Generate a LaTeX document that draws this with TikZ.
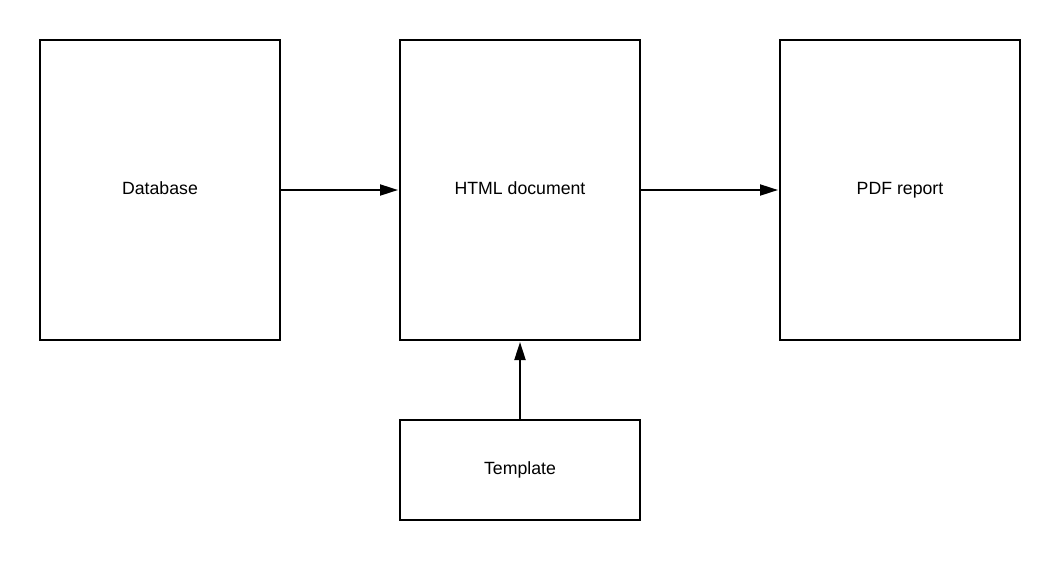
\documentclass[tikz,border=0pt]{standalone}
\usepackage{fontspec}
\setmainfont{Liberation Sans}
\usetikzlibrary{arrows.meta}
\begin{document}
\begin{tikzpicture}[x=1pt,y=-1pt,
  box/.style={draw=black,line width=2pt,minimum width=240pt,inner sep=0pt,text height=12.7pt,text depth=4.7pt,font=\fontsize{17.7}{20}\selectfont},
  tall/.style={box,minimum height=300pt},
  short/.style={box,minimum height=100pt},
  conn/.style={draw=black,line width=2pt,-{Triangle[length=18pt,width=11pt]},shorten >=1pt}]
\useasboundingbox (0,0) rectangle (1060,560);
\node[tall] (db) at (160,190) {Database};
\node[tall] (html) at (520,190) {HTML document};
\node[tall] (pdf) at (900,190) {PDF report};
\node[short] (tpl) at (520,470) {Template};
\draw[conn] (db.east) -- (html.west);
\draw[conn] (html.east) -- (pdf.west);
\draw[conn] (tpl.north) -- (html.south);
\end{tikzpicture}
\end{document}
